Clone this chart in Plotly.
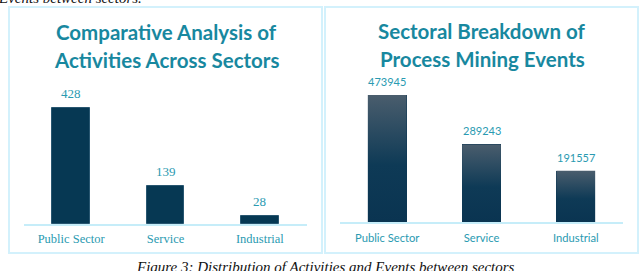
import plotly.graph_objects as go

# ---- data ----
sectors = ["Public Sector", "Service", "Industrial"]
activities = [428, 139, 28]
events = [473945, 289243, 191557]
title_left = ["Comparative Analysis of", "Activities Across Sectors"]
title_right = ["Sectoral Breakdown of", "Process Mining Events"]
caption = "Figure 3: Distribution of Activities and Events between sectors"
top_remnant = "Events between sectors."

W, H = 640, 271
TEAL_T = "#18889f"
TEAL_L = "#2a9ab1"
NAVY = "#063853"
BORDER = "#d3f1fc"
AXIS = "#c6edf9"

def px(x):
    return x / W

def py(y):
    return 1 - y / H

xs = list(range(len(sectors)))
fig = go.Figure()

# left chart
fig.add_trace(go.Bar(
    x=xs, y=activities, width=0.40,
    marker=dict(color=NAVY, line=dict(color="#285670", width=1)),
    xaxis="x", yaxis="y", showlegend=False, hoverinfo="x+y",
))

# right chart
bw = 0.41
fig.add_trace(go.Bar(
    x=xs, y=events, width=bw,
    marker=dict(color="#0b3552", line=dict(width=0)),
    xaxis="x2", yaxis="y2", showlegend=False, hoverinfo="x+y",
))
for i, v in zip(xs, events):
    fig.add_trace(go.Scatter(
        x=[i - bw / 2, i + bw / 2, i + bw / 2, i - bw / 2, i - bw / 2],
        y=[0, 0, v, v, 0],
        mode="lines", line=dict(width=0), fill="toself",
        fillgradient=dict(type="vertical",
                          colorscale=[[0, "#0a3451"], [0.45, "#0e3a56"], [1, "#4a5d6d"]]),
        xaxis="x2", yaxis="y2", showlegend=False, hoverinfo="skip",
    ))

annotations = []
for i, v in zip(xs, activities):
    annotations.append(dict(x=i, y=v, xref="x", yref="y", text=str(v), showarrow=False,
                            yanchor="bottom", yshift=5,
                            font=dict(family="Liberation Serif", size=13, color=TEAL_L)))
for i, v in zip(xs, events):
    annotations.append(dict(x=i, y=v, xref="x2", yref="y2", text=str(v), showarrow=False,
                            yanchor="bottom", yshift=5,
                            font=dict(family="Lato", size=11, color=TEAL_L)))

for k, t in enumerate(title_left):
    annotations.append(dict(x=px(166), y=py(32 + 28 * k), xref="paper", yref="paper", text=t,
                            showarrow=False, xanchor="center", yanchor="middle",
                            font=dict(family="Lato", size=20.5, color=TEAL_T, weight="bold")))
for k, t in enumerate(title_right):
    annotations.append(dict(x=px(482), y=py(31 + 28 * k), xref="paper", yref="paper", text=t,
                            showarrow=False, xanchor="center", yanchor="middle",
                            font=dict(family="Lato", size=20.5, color=TEAL_T, weight="bold")))

annotations.append(dict(x=px(325), y=py(257), xref="paper", yref="paper", text=caption,
                        showarrow=False, xanchor="center", yanchor="top",
                        font=dict(family="Liberation Serif", size=15, color="#111111", style="italic")))
annotations.append(dict(x=px(144), y=py(8), xref="paper", yref="paper", text=top_remnant,
                        showarrow=False, xanchor="right", yanchor="bottom",
                        font=dict(family="Liberation Serif", size=15, color="#111111", style="italic")))

shapes = [
    dict(type="rect", xref="paper", yref="paper", x0=px(9), x1=px(322), y0=py(253), y1=py(7),
         line=dict(color=BORDER, width=2), layer="below"),
    dict(type="rect", xref="paper", yref="paper", x0=px(325), x1=px(638), y0=py(253), y1=py(7),
         line=dict(color=BORDER, width=2), layer="below"),
]

left_top, left_base = 100, 224
right_top, right_base = 90, 222
left_max = activities[0] * (left_base - left_top) / (left_base - 108)
right_max = events[0] * (right_base - right_top) / (right_base - 95)

xcommon = dict(tickvals=xs, ticktext=sectors, range=[-0.5, 2.5], showgrid=False, zeroline=False,
               showline=True, linecolor=AXIS, linewidth=2, ticks="outside",
               tickcolor="rgba(0,0,0,0)", fixedrange=True)
ycommon = dict(visible=False, showgrid=False, zeroline=False, fixedrange=True)

fig.update_layout(
    width=W, height=H, margin=dict(l=0, r=0, t=0, b=0),
    paper_bgcolor="white", plot_bgcolor="white",
    xaxis=dict(domain=[px(24), px(307)], anchor="y", ticklen=2,
               tickfont=dict(family="Liberation Serif", size=12.5, color=TEAL_L), **xcommon),
    yaxis=dict(domain=[py(left_base), py(left_top)], range=[0, left_max], anchor="x", **ycommon),
    xaxis2=dict(domain=[px(340), px(623)], anchor="y2", ticklen=5,
                tickfont=dict(family="Lato", size=11.2, color=TEAL_L), **xcommon),
    yaxis2=dict(domain=[py(right_base), py(right_top)], range=[0, right_max], anchor="x2", **ycommon),
    annotations=annotations, shapes=shapes, bargap=0,
)

fig.write_html("out.html", config={"displayModeBar": False},
               post_script="document.body.style.margin='0';document.body.style.overflow='hidden';")
